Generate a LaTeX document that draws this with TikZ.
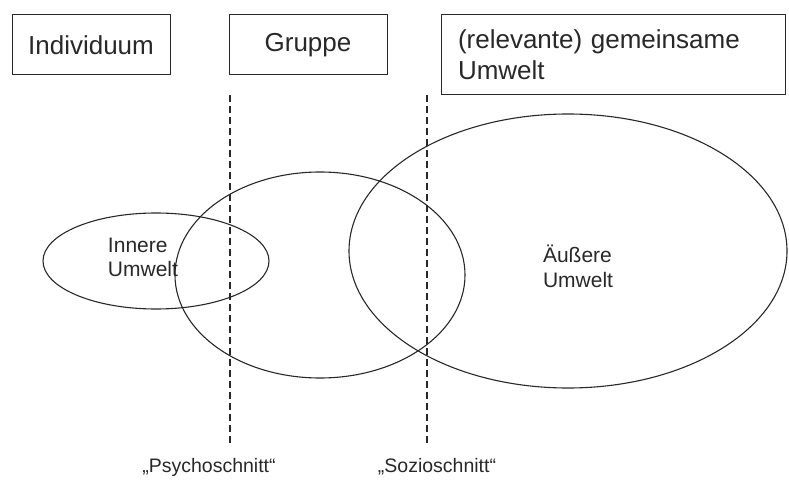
\documentclass[tikz,border=0pt]{standalone}
\usepackage{fontspec}
\setmainfont{Liberation Sans}
\usetikzlibrary{positioning}
\definecolor{inkgray}{RGB}{40,40,40}

\begin{document}
\begin{tikzpicture}[x=1pt,y=-1pt,line width=1.1pt,inkgray,
	box/.style={draw,line width=1pt,minimum height=60pt,font=\fontsize{26}{31}\selectfont},
	label/.style={font=\fontsize{19.5}{23}\selectfont}]
	\useasboundingbox (0,0) rectangle (789,481);

	% top boxes
	\node[box,minimum width=158pt] (indiv) at (91,45) {Individuum};
	\node[box,minimum width=158pt] (grp) at (308,45) {Gruppe};
	\node[box,minimum width=344pt,minimum height=80pt,align=left,text width=310pt,inner xsep=17pt] (env) at (613,55) {(relevante) gemeinsame\\Umwelt};

	% cuts
	\coordinate (psyTop) at (230,95);
	\coordinate (psyBot) at (230,443);
	\coordinate (socTop) at (427,95);
	\coordinate (socBot) at (427,443);
	\draw[dashed,dash pattern=on 7pt off 4pt] (psyTop)--(psyBot);
	\draw[dashed,dash pattern=on 7pt off 4pt] (socTop)--(socBot);
	\node[label] (psy) at (209,467) {„Psychoschnitt“};
	\node[label] (soc) at (437,467) {„Sozioschnitt“};

	% ellipses
	\draw (156,261) ellipse [x radius=113, y radius=48];
	\draw (320,275) ellipse [x radius=145, y radius=103];
	\draw (568,251) ellipse [x radius=219, y radius=137];

	\node[label,align=left,font=\fontsize{21}{24}\selectfont] (inner) at (143,257) {Innere\\Umwelt};
	\node[label,align=left,font=\fontsize{21}{25}\selectfont] (outer) at (578,266) {Äußere\\Umwelt};
	%%%%%%%%%%%%%%%%%%%%%%%%%%%%%
\end{tikzpicture}
\end{document}
